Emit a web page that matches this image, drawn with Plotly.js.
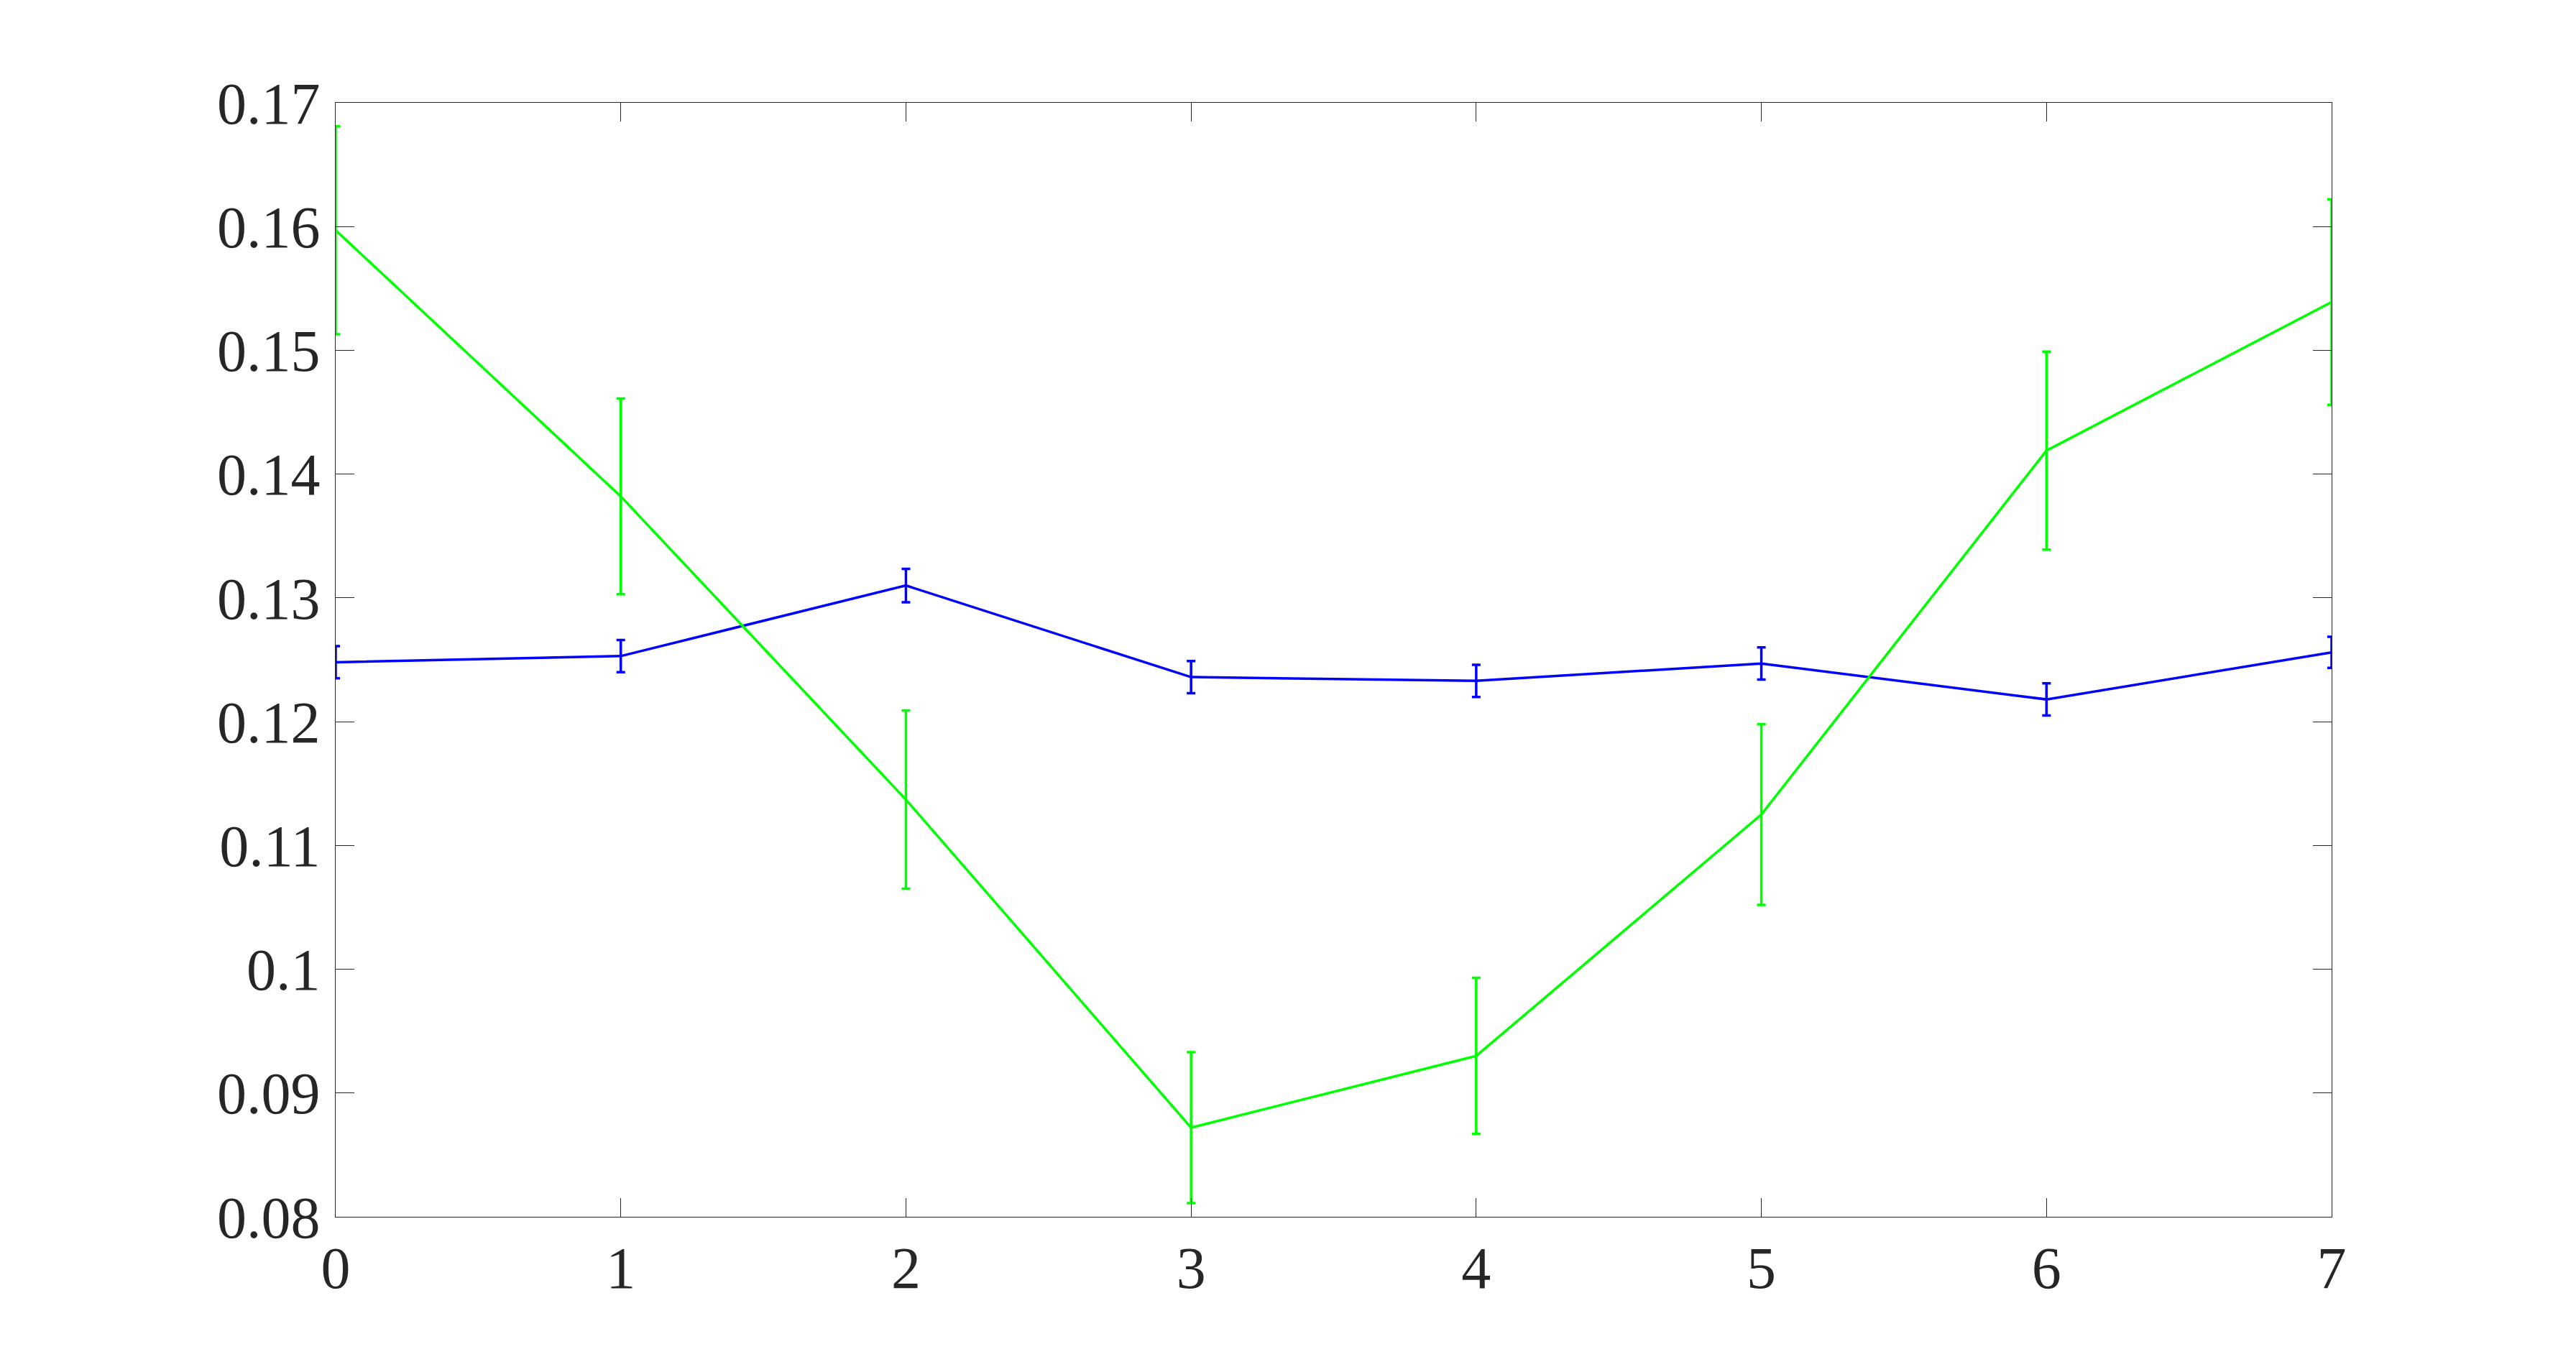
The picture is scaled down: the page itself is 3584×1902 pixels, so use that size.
<!DOCTYPE html>
<html>
<head>
<meta charset="utf-8">
<script src="https://cdn.plot.ly/plotly-3.0.1.min.js"></script>
<style>html,body{margin:0;padding:0;background:#fff;overflow:hidden}#chart{width:3584px;height:1902px}</style>
</head>
<body>
<div id="chart"></div>
<script>
const xValues = [0, 1, 2, 3, 4, 5, 6, 7];
const blueValues = [0.1248, 0.1253, 0.1310, 0.1236, 0.1233, 0.1247, 0.1218, 0.1256];
const blueErrors = [0.0013, 0.0013, 0.00135, 0.0013, 0.0013, 0.0013, 0.0013, 0.00126];
const greenValues = [0.1597, 0.1382, 0.1137, 0.0872, 0.0930, 0.1125, 0.1419, 0.1539];
const greenErrors = [0.0084, 0.0079, 0.0072, 0.0061, 0.0063, 0.0073, 0.0080, 0.0083];
const xTicks = [0, 1, 2, 3, 4, 5, 6, 7];
const yTicks = [0.08, 0.09, 0.10, 0.11, 0.12, 0.13, 0.14, 0.15, 0.16, 0.17];
const yTickLabels = ['0.08', '0.09', '0.1', '0.11', '0.12', '0.13', '0.14', '0.15', '0.16', '0.17'];

const traces = [
  {
    x: xValues, y: blueValues, type: 'scatter', mode: 'lines',
    line: {color: '#0000ff', width: 3.5},
    error_y: {type: 'data', array: blueErrors, visible: true, color: '#0000ff', thickness: 3.5, width: 6}
  },
  {
    x: xValues, y: greenValues, type: 'scatter', mode: 'lines',
    line: {color: '#00ff00', width: 3.5},
    error_y: {type: 'data', array: greenErrors, visible: true, color: '#00ff00', thickness: 3.5, width: 6}
  }
];

const axisCommon = {
  showline: true, linecolor: '#262626', linewidth: 1, mirror: 'ticks',
  ticks: 'inside', ticklen: 26, tickwidth: 1, tickcolor: '#262626',
  showgrid: false, zeroline: false,
  tickfont: {family: 'Liberation Serif, serif', size: 82, color: '#262626'}
};

const layout = {
  width: 3584, height: 1902,
  margin: {l: 467, r: 340, t: 143, b: 209, pad: 0},
  paper_bgcolor: '#ffffff', plot_bgcolor: '#ffffff',
  showlegend: false,
  xaxis: Object.assign({}, axisCommon, {
    range: [0, 7], tickmode: 'array', tickvals: xTicks, ticktext: xTicks.map(String),
    ticklabelstandoff: 0
  }),
  yaxis: Object.assign({}, axisCommon, {
    range: [0.08, 0.17], tickmode: 'array', tickvals: yTicks, ticktext: yTickLabels,
    ticklabelstandoff: 4
  })
};

Plotly.newPlot('chart', traces, layout, {staticPlot: true, displayModeBar: false});
</script>
</body>
</html>
